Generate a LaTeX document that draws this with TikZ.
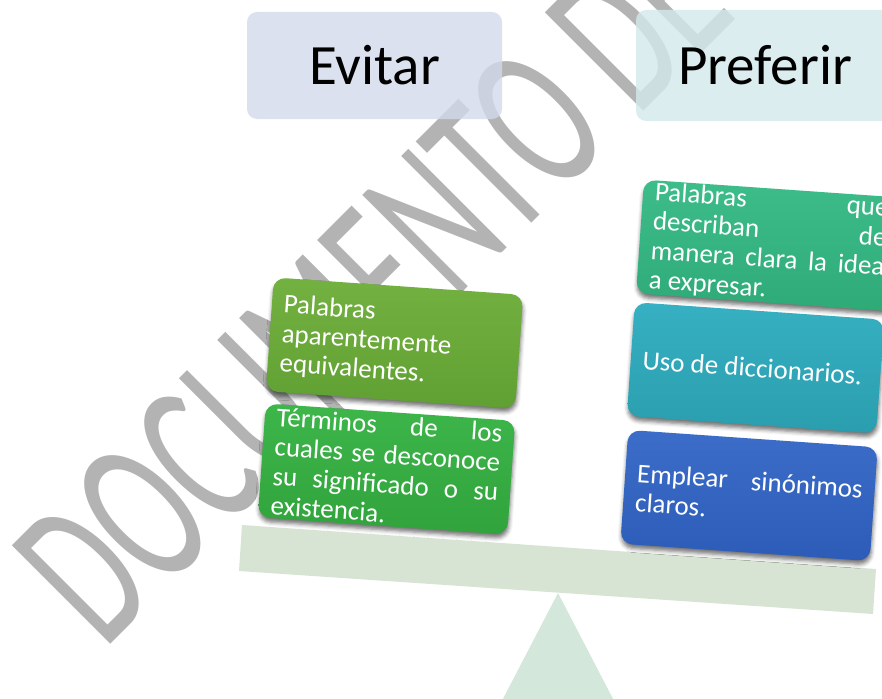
\documentclass[tikz,border=0pt]{standalone}
\usepackage{fontspec}
\setmainfont{Carlito}
\usetikzlibrary{shadows.blur}

\definecolor{marcagris}{HTML}{B4B3B4}
\definecolor{evitarfondo}{HTML}{D3D9EC}
\definecolor{preferirfondo}{HTML}{D3E9EB}
\definecolor{barrafondo}{HTML}{D8E4D3}
\definecolor{apoyofondo}{HTML}{D3E7DB}
\definecolor{olivaA}{HTML}{73B141}
\definecolor{olivaB}{HTML}{60A032}
\definecolor{verdeA}{HTML}{3DB64A}
\definecolor{verdeB}{HTML}{31A33C}
\definecolor{marA}{HTML}{3DBD8A}
\definecolor{marB}{HTML}{2EAA77}
\definecolor{tealA}{HTML}{36B0C2}
\definecolor{tealB}{HTML}{2A9EAE}
\definecolor{azulA}{HTML}{3C6DC9}
\definecolor{azulB}{HTML}{2C5CB7}

\hyphenpenalty=10000
\tolerance=10000

\begin{document}
\begin{tikzpicture}[x=1pt, y=-1pt,
        marca/.style={anchor=base west, rotate=45, xscale=0.6, inner sep=0pt, text=marcagris, font=\fontsize{217}{217}\selectfont},
        headbox/.style={rectangle, rounded corners=10pt, fill opacity=0.8, text opacity=1, inner sep=0pt, font=\fontsize{57}{60}\selectfont},
        itembox/.style 2 args={rectangle, rounded corners=12pt, rotate=-4, minimum height=114pt, text width=226pt, inner xsep=12pt, inner ysep=0pt, align=justify, text=white, top color=#1, bottom color=#2, font=\fontsize{27}{29.5}\selectfont, blur shadow={shadow xshift=0.5pt, shadow yshift=-4pt, shadow blur radius=4pt, shadow opacity=55}}]

    \path[use as bounding box, clip] (0,0) rectangle (882,698);

    % marca de agua
    \node (marca) [marca] at (104.7,650.3) {DOCUMENTO DE};

    % encabezados
    \node (evitar_head) [headbox, fill=evitarfondo, minimum width=255pt, minimum height=107pt] at (374.5,65.5) {Evitar};
    \node (preferir_head) [headbox, fill=preferirfondo, minimum width=258pt, minimum height=111pt] at (765,65.5) {Preferir};

    % balanza
    \fill[apoyofondo] (558,593) -- (492,720) -- (624,720) -- cycle;
    \fill[barrafondo] (242,525) -- (876,569) -- (873,614) -- (239,571) -- cycle;

    % lado izquierdo
    \node (evitar_uno) [itembox={olivaA}{olivaB}] at (394.5,343) {Palabras\linebreak aparentemente\linebreak equivalentes.};
    \node (evitar_dos) [itembox={verdeA}{verdeB}] at (386.5,469) {Términos de los\linebreak cuales se desconoce\linebreak su significado o su\linebreak existencia.};

    % lado derecho
    \node (preferir_uno) [itembox={marA}{marB}, text width=234pt] at (768.7,245.5) {Palabras que\linebreak describan de\linebreak manera clara la idea\linebreak a expresar.};
    \node (preferir_dos) [itembox={tealA}{tealB}] at (755.5,367.8) {Uso de diccionarios.};
    \node (preferir_tres) [itembox={azulA}{azulB}] at (749,495.5) {Emplear sinónimos\linebreak claros.};
\end{tikzpicture}
\end{document}
